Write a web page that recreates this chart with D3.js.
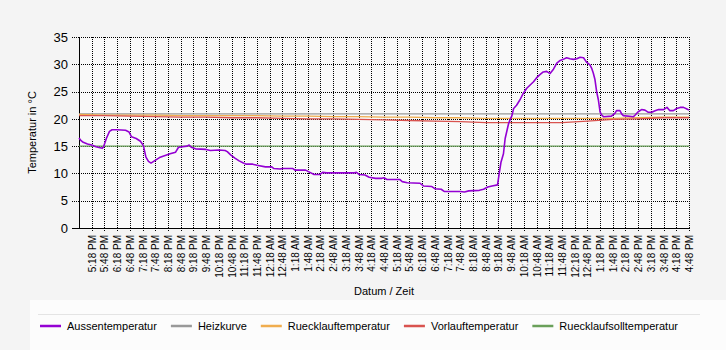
<!DOCTYPE html>
<html><head><meta charset="utf-8">
<script src="https://cdn.jsdelivr.net/npm/d3@7"></script>
<style>
html,body{margin:0;padding:0;background:#f4f4f4;}
svg{display:block;font-family:"Liberation Sans",Arial,sans-serif;}
</style>
</head><body>
<svg id="c" width="726" height="350"></svg>
<script>
// ---------- data ----------
const seriesNames = ["Aussentemperatur","Heizkurve","Ruecklauftemperatur","Vorlauftemperatur","Ruecklaufsolltemperatur"];
const seriesColors = ["#9400d3","#999999","#f0ad4e","#d9534f","#6aa05a"];
const yTicks = [0,5,10,15,20,25,30,35];
const xTickLabels = ["5:18 PM","5:48 PM","6:18 PM","6:48 PM","7:18 PM","7:48 PM","8:18 PM","8:48 PM","9:18 PM","9:48 PM","10:18 PM","10:48 PM","11:18 PM","11:48 PM",
  "12:18 AM","12:48 AM","1:18 AM","1:48 AM","2:18 AM","2:48 AM","3:18 AM","3:48 AM","4:18 AM","4:48 AM","5:18 AM","5:48 AM","6:18 AM","6:48 AM","7:18 AM","7:48 AM","8:18 AM","8:48 AM","9:18 AM","9:48 AM","10:18 AM","10:48 AM","11:18 AM","11:48 AM",
  "12:18 PM","12:48 PM","1:18 PM","1:48 PM","2:18 PM","2:48 PM","3:18 PM","3:48 PM","4:18 PM","4:48 PM"];
// minutes after 4:48 PM
const outsideMinutes = [0,5,10,20,30,40,50,55,58,65,72,78,90,110,118,124,135,145,152,158,164,170,178,190,200,215,228,235,255,260,265,275,300,310,330,345,350,358,368,378,388,395,410,420,440,455,460,475,480,505,510,535,545,555,568,575,585,650,655,662,675,685,700,715,720,727,757,763,775,805,813,833,840,855,862,900,910,920,945,955,965,975,988,992,996,1002,1006,1014,1018,1022,1026,1033,1041,1049,1057,1065,1073,1080,1088,1096,1104,1112,1120,1128,1136,1143,1151,1159,1167,1175,1183,1191,1198,1206,1210,1214,1218,1222,1226,1230,1234,1238,1257,1265,1269,1277,1281,1285,1309,1313,1320,1328,1336,1344,1352,1360,1368,1380,1388,1395,1403,1411,1419,1427,1435,1440];
const outsideTemps = [16.5,16.0,15.7,15.4,15.2,14.9,14.7,14.6,14.9,16.5,17.7,18.0,18.0,17.9,17.6,16.7,16.4,15.9,15.1,13.0,12.2,11.9,12.3,12.9,13.2,13.6,13.9,14.8,15.0,15.2,14.8,14.5,14.4,14.2,14.3,14.2,14.0,13.4,12.8,12.3,11.9,11.7,11.7,11.5,11.2,11.2,10.9,10.8,10.9,10.9,10.6,10.6,10.2,9.8,9.8,10.2,10.1,10.1,10.2,9.8,9.7,9.3,9.1,9.1,9.2,8.9,8.9,8.5,8.3,8.2,7.7,7.6,7.2,7.1,6.7,6.7,6.6,6.8,6.9,7.1,7.5,7.7,7.9,10.0,12.0,13.6,16.4,19.1,19.9,20.6,21.9,22.5,23.5,24.7,25.6,26.2,26.8,27.5,28.1,28.6,28.7,28.3,29.1,30.2,30.7,30.9,31.2,31.0,30.9,31.0,31.3,31.2,30.4,29.9,29.3,28.4,27.2,25.0,23.5,21.3,20.7,20.4,20.5,21.0,21.5,21.5,20.9,20.6,20.4,20.7,21.3,21.7,21.6,21.2,21.2,21.5,21.7,21.7,22.1,21.5,21.5,21.9,22.1,22.1,21.8,21.6];
const hourlyMinutes = [0,60,120,180,240,300,360,420,480,540,600,660,720,780,840,900,960,1020,1080,1140,1200,1260,1320,1380,1440];
const heizkurve = [20.9,20.9,20.9,20.9,20.9,20.9,20.9,20.9,20.9,20.9,20.9,20.9,20.9,20.9,20.9,20.9,20.9,20.9,20.9,20.9,20.9,20.9,20.9,20.9,20.9];
const ruecklauf = [20.8,20.7,20.7,20.7,20.6,20.6,20.6,20.6,20.5,20.5,20.4,20.4,20.3,20.3,20.2,20.2,20.1,20.1,20.1,20.1,20.1,20.1,20.2,20.3,20.3];
const vorlauf = [20.6,20.6,20.5,20.4,20.3,20.3,20.2,20.2,20.1,20.0,20.0,19.9,19.8,19.7,19.6,19.5,19.3,19.3,19.3,19.3,19.6,19.9,20.0,20.2,20.2];
const ruecklaufSoll = [15.0,15.0,15.0,15.0,15.0,15.0,15.0,15.0,15.0,15.0,15.0,15.0,15.0,15.0,15.0,15.0,15.0,15.0,15.0,15.0,15.0,15.0,15.0,15.0,15.0];

// ---------- layout ----------
const W = 726, H = 350;
const L = 79, R = 689, T = 37, B = 228;
const start = new Date(2020, 0, 1, 16, 48);
const end = d3.timeMinute.offset(start, 1440);
const toDate = m => d3.timeMinute.offset(start, m);

const x = d3.scaleTime().domain([start, end]).range([L, R]);
const y = d3.scaleLinear().domain([0, 35]).range([B, T]);
const tickDates = xTickLabels.map((l, i) => d3.timeMinute.offset(start, 30 * (i + 1)));

const svg = d3.select("#c");
svg.append("rect").attr("width", W).attr("height", H).attr("fill", "#f4f4f4");
svg.append("rect").attr("x", 30).attr("y", 300).attr("width", W - 30).attr("height", 50).attr("fill", "#fcfcfc");
svg.append("line").attr("x1", 38).attr("x2", 700).attr("y1", 314.5).attr("y2", 314.5).attr("stroke", "#e4e4e4");
svg.append("rect").attr("x", L).attr("y", T).attr("width", R - L).attr("height", B - T).attr("fill", "#f9f9f9");

// grid
const gy = svg.append("g").attr("transform", `translate(${L},0)`)
  .call(d3.axisLeft(y).tickValues(yTicks.filter(v => v > 0)).tickSize(-(R - L)).tickFormat(""));
gy.select(".domain").remove();
gy.selectAll("line").attr("stroke", "#000").attr("stroke-dasharray", "1,1").attr("shape-rendering", "crispEdges");

const gx = svg.append("g").attr("transform", `translate(0,${T})`)
  .call(d3.axisBottom(x).tickValues(tickDates).tickSize(B - T).tickFormat(""));
gx.select(".domain").remove();
gx.selectAll("line").attr("stroke", "#000").attr("stroke-dasharray", "1,1").attr("shape-rendering", "crispEdges");

// axes
const ay = svg.append("g").attr("transform", `translate(${L},0)`)
  .call(d3.axisLeft(y).tickValues(yTicks).tickSize(8).tickPadding(3));
ay.select(".domain").remove();
ay.selectAll("line").attr("stroke", "#000").attr("stroke-dasharray", "1,1").attr("shape-rendering", "crispEdges");
ay.selectAll("text").attr("font-size", 13).attr("fill", "#000").attr("font-family", "Liberation Sans, Arial, sans-serif");

const ax = svg.append("g").attr("transform", `translate(0,${B})`)
  .call(d3.axisBottom(x).tickValues(tickDates).tickSize(4).tickFormat((d, i) => xTickLabels[i]));
ax.select(".domain").remove();
ax.selectAll("line").attr("stroke", "#000").attr("stroke-dasharray", "1,1").attr("shape-rendering", "crispEdges");
ax.selectAll("text")
  .attr("transform", "rotate(-90)").attr("text-anchor", "end")
  .attr("x", -7).attr("y", 0).attr("dy", "0.35em")
  .attr("font-size", 10).attr("fill", "#000").attr("font-family", "Liberation Sans, Arial, sans-serif");

svg.append("line").attr("x1", L + 0.5).attr("x2", L + 0.5).attr("y1", T).attr("y2", B + 1).attr("stroke", "#000").attr("shape-rendering", "crispEdges");
svg.append("line").attr("x1", 72).attr("x2", R + 1).attr("y1", B + 0.5).attr("y2", B + 0.5).attr("stroke", "#000").attr("shape-rendering", "crispEdges");

// titles
svg.append("text").attr("transform", `translate(36,${(T + B) / 2}) rotate(-90)`).attr("text-anchor", "middle")
  .attr("font-size", 11).attr("fill", "#000").text("Temperatur in °C");
svg.append("text").attr("x", (L + R) / 2).attr("y", 295).attr("text-anchor", "middle")
  .attr("font-size", 11).attr("fill", "#000").text("Datum / Zeit");

// lines
const line = d3.line().x(d => x(d.t)).y(d => y(d.v));
const series = [
  outsideMinutes.map((m, i) => ({ t: toDate(m), v: outsideTemps[i] })),
  hourlyMinutes.map((m, i) => ({ t: toDate(m), v: heizkurve[i] })),
  hourlyMinutes.map((m, i) => ({ t: toDate(m), v: ruecklauf[i] })),
  hourlyMinutes.map((m, i) => ({ t: toDate(m), v: vorlauf[i] })),
  hourlyMinutes.map((m, i) => ({ t: toDate(m), v: ruecklaufSoll[i] }))
];
const widths = [1.6, 1.3, 1.3, 1.3, 1.1];
const order = [1, 4, 2, 3, 0];
order.forEach(k => {
  svg.append("path").datum(series[k]).attr("d", line).attr("fill", "none")
    .attr("stroke", seriesColors[k]).attr("stroke-width", widths[k]).attr("stroke-linejoin", "round");
});

// legend
let lx = 40;
const ly = 326;
seriesNames.forEach((n, i) => {
  svg.append("line").attr("x1", lx).attr("x2", lx + 21).attr("y1", ly).attr("y2", ly)
    .attr("stroke", seriesColors[i]).attr("stroke-width", 2.5);
  const t = svg.append("text").attr("x", lx + 27).attr("y", ly).attr("dy", "0.35em")
    .attr("font-size", 11).attr("fill", "#000").text(n);
  lx += 27 + t.node().getComputedTextLength() + 14;
});
</script>
</body></html>
